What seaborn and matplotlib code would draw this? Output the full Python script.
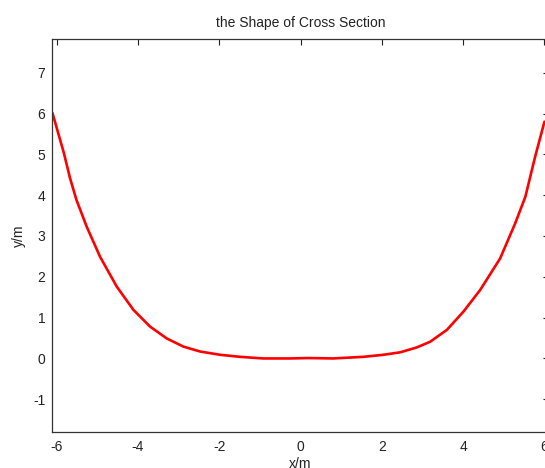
import matplotlib
matplotlib.use("Agg")
import matplotlib.pyplot as plt
import seaborn as sns
import pandas as pd

# Values
x_vals = [-6.10, -5.82, -5.67, -5.51, -5.26, -4.93, -4.52, -4.11, -3.70, -3.29,
          -2.88, -2.47, -1.98, -1.49, -0.92, -0.26, 0.18, 0.80, 1.55, 2.04,
          2.45, 2.86, 3.19, 3.60, 4.01, 4.42, 4.91, 5.28, 5.53, 5.77, 6.00]
y_vals = [6.01, 5.03, 4.42, 3.88, 3.23, 2.49, 1.76, 1.19, 0.78, 0.49,
          0.29, 0.17, 0.09, 0.04, 0.00, 0.00, 0.01, 0.00, 0.04, 0.09,
          0.15, 0.27, 0.41, 0.70, 1.15, 1.68, 2.45, 3.31, 3.96, 4.94, 5.80]
x_ticks = [-6, -4, -2, 0, 2, 4, 6]
y_ticks = [-1, 0, 1, 2, 3, 4, 5, 6, 7]

sns.set_style("white")
plt.rcParams['font.family'] = ['Liberation Sans', 'DejaVu Sans']
plt.rcParams['axes.unicode_minus'] = False

df = pd.DataFrame({"x": x_vals, "y": y_vals})

fig = plt.figure(figsize=(5.45, 4.68), dpi=100)
ax = fig.add_axes([0.0956, 0.0776, 0.9116, 0.8384])

sns.lineplot(data=df, x="x", y="y", color="#ff0000", linewidth=1.9,
             estimator=None, sort=False, ax=ax)

ax.set_xlim(-6.11, 6.11)
ax.set_ylim(-1.794, 7.818)
ax.set_xticks(x_ticks)
ax.set_yticks(y_ticks)
ax.set_xticklabels([str(t) for t in x_ticks])
ax.set_yticklabels([str(t) for t in y_ticks])
ax.tick_params(direction="in", length=4, width=0.8, colors="#222222",
               labelsize=10, top=True, right=True, labelcolor="#222222")
ax.tick_params(axis="x", pad=6)
ax.tick_params(axis="y", pad=5)
for s in ax.spines.values():
    s.set_visible(True)
    s.set_color("#333333")
    s.set_linewidth(0.9)

ax.set_title("the Shape of Cross Section", fontsize=10, color="#222222", pad=9)
ax.set_xlabel("x/m", fontsize=10, color="#222222", labelpad=2)
ax.set_ylabel("y/m", fontsize=10, color="#222222", labelpad=5)

fig.savefig("out.png", dpi=100)
